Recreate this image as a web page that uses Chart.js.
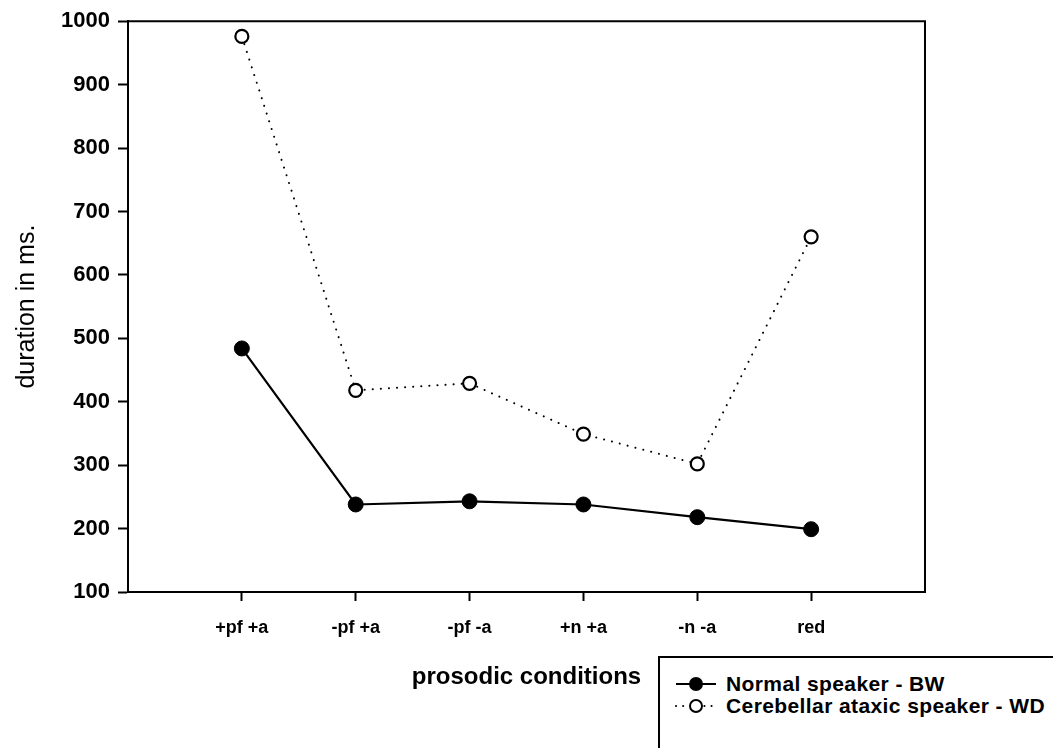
<!DOCTYPE html>
<html>
<head>
<meta charset="utf-8">
<script src="https://cdn.jsdelivr.net/npm/chart.js@4"></script>
<style>
  html, body { margin: 0; padding: 0; background: #fff; }
  #wrap { position: relative; width: 1053px; height: 748px; overflow: hidden; }
  #c { position: absolute; left: 0; top: 0; }
  #legend {
    position: absolute; left: 658px; top: 656px; width: 420px; height: 120px;
    border: 2px solid #000; box-sizing: border-box; background: #fff;
    font-family: 'Liberation Sans', Arial, sans-serif; font-weight: bold; font-size: 21px;
    letter-spacing: 0.4px; color: #000;
  }
  .row { position: absolute; left: 14px; height: 22px; display: flex; align-items: center; white-space: nowrap; }
  .row svg { margin-right: 8px; }
</style>
</head>
<body>
<div id="wrap">
  <canvas id="c" width="1053" height="748"></canvas>
  <div id="legend"></div>
</div>
<script>
// ---- data ----
const categories = ['+pf +a', '-pf +a', '-pf -a', '+n +a', '-n -a', 'red'];
const normalBW = [484, 238, 243, 238, 218, 199];
const ataxicWD = [976, 418, 429, 349, 302, 660];
const seriesNames = ['Normal speaker - BW', 'Cerebellar ataxic speaker - WD'];
const yTicks = [100, 200, 300, 400, 500, 600, 700, 800, 900, 1000];

// padded category table (empty slot at each end, as in the original axis)
const labels = [''].concat(categories, ['']);
const pad = arr => [null].concat(arr, [null]);

const FONT = "'Liberation Sans', Arial, sans-serif";

const boxPlugin = {
  id: 'box',
  afterDraw(chart) {
    const { ctx, chartArea: a } = chart;
    ctx.save();
    ctx.strokeStyle = '#000';
    ctx.lineWidth = 2;
    ctx.beginPath();
    ctx.moveTo(a.left, a.top); ctx.lineTo(a.right, a.top); ctx.lineTo(a.right, a.bottom);
    ctx.stroke();
    ctx.restore();
  }
};

const chart = new Chart(document.getElementById('c'), {
  type: 'line',
  data: {
    labels: labels,
    datasets: [
      {
        label: seriesNames[0],
        data: pad(normalBW),
        borderColor: '#000',
        borderWidth: 2.2,
        pointRadius: 7.5,
        pointBackgroundColor: '#000',
        pointBorderColor: '#000',
        pointBorderWidth: 1,
        tension: 0
      },
      {
        label: seriesNames[1],
        data: pad(ataxicWD),
        borderColor: '#000',
        borderWidth: 2,
        borderDash: [0.1, 8],
        borderCapStyle: 'round',
        pointRadius: 6.5,
        pointBackgroundColor: '#fff',
        pointBorderColor: '#000',
        pointBorderWidth: 2.2,
        tension: 0
      }
    ]
  },
  options: {
    responsive: false,
    animation: false,
    devicePixelRatio: 1,
    layout: { padding: { top: 20, right: 128, left: 0, bottom: 0 } },
    plugins: { legend: { display: false }, tooltip: { enabled: false } },
    scales: {
      x: {
        type: 'category',
        offset: false,
        afterFit(s) { s.height = 156; },
        grid: {
          drawOnChartArea: false,
          drawTicks: true,
          tickLength: 9,
          tickWidth: 2,
          tickColor: ctx => (ctx.index === 0 || ctx.index === labels.length - 1) ? 'rgba(0,0,0,0)' : '#000'
        },
        border: { display: true, color: '#000', width: 2 },
        ticks: {
          autoSkip: false, maxRotation: 0, minRotation: 0,
          color: '#000', padding: 16,
          font: { family: FONT, size: 18, weight: 'bold' }
        },
        title: {
          display: true, text: 'prosodic conditions', color: '#000',
          font: { family: FONT, size: 24, weight: 'bold' },
          padding: { top: 0, bottom: 56 }
        }
      },
      y: {
        min: 100, max: 1000,
        afterFit(s) { s.width = 128; },
        afterBuildTicks(s) { s.ticks = yTicks.map(v => ({ value: v })); },
        grid: {
          drawOnChartArea: false, drawTicks: true,
          tickLength: 10, tickWidth: 2, tickColor: '#000'
        },
        border: { display: true, color: '#000', width: 2 },
        ticks: {
          color: '#000', padding: 8,
          callback: v => String(v),
          font: { family: FONT, size: 22, weight: 'bold' }
        },
        title: {
          display: true, text: 'duration in ms.', color: '#000',
          font: { family: FONT, size: 25, weight: 'normal' },
          padding: { top: 12, bottom: 0 }
        }
      }
    }
  },
  plugins: [boxPlugin]
});

// ---- HTML legend built from the datasets ----
(function buildLegend() {
  const lg = document.getElementById('legend');
  const tops = [15, 37];
  chart.data.datasets.forEach((ds, i) => {
    const row = document.createElement('div');
    row.className = 'row';
    row.style.top = tops[i] + 'px';
    const dotted = !!ds.borderDash;
    const svg = dotted
      ? `<svg width="44" height="18"><line x1="2" y1="9" x2="42" y2="9" stroke="#000" stroke-width="2" stroke-dasharray="0.1 7" stroke-linecap="round"/><circle cx="22" cy="9" r="6" fill="#fff" stroke="#000" stroke-width="2"/></svg>`
      : `<svg width="44" height="18"><line x1="2" y1="9" x2="42" y2="9" stroke="#000" stroke-width="2.2"/><circle cx="22" cy="9" r="7" fill="#000"/></svg>`;
    row.innerHTML = svg + '<span>' + ds.label + '</span>';
    lg.appendChild(row);
  });
})();
</script>
</body>
</html>
